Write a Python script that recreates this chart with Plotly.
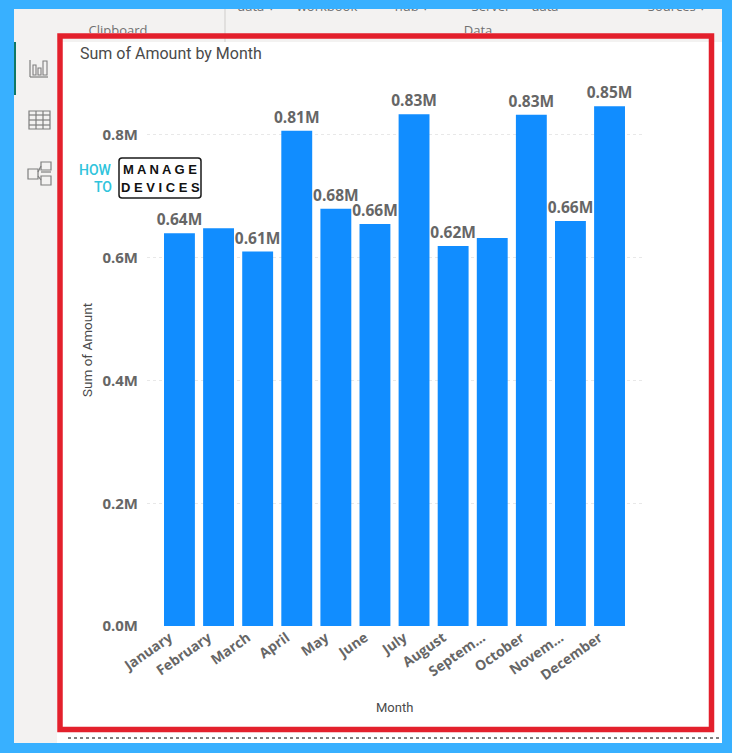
import plotly.graph_objects as go

W = 732
H = 753

months = ["January", "February", "March", "April", "May", "June", "July",
          "August", "Septem...", "October", "Novem...", "December"]
amounts = [0.640, 0.648, 0.610, 0.807, 0.680, 0.655, 0.834, 0.619, 0.632, 0.833, 0.660, 0.847]
bar_labels = ["0.64M", "", "0.61M", "0.81M", "0.68M", "0.66M", "0.83M", "0.62M", "", "0.83M", "0.66M", "0.85M"]
y_ticks = [0.0, 0.2, 0.4, 0.6, 0.8]
y_tick_labels = ["0.0M", "0.2M", "0.4M", "0.6M", "0.8M"]

ribbon_text = ["data ▾", "workbook", "hub ▾", "Server", "data", "Sources ▾", "Clipboard", "Data"]
ribbon_x = [256, 327, 412, 491, 545, 677, 118, 478]
ribbon_y = [8, 8, 8, 8, 8, 8, 32, 32]

BLUE = "#38b0ff"
GREY = "#f3f2f1"
RED = "#e3202c"
ICON = "#7f7f7f"


def px(x):
    return x / W


def py(y):
    return 1 - y / H


def rect(x0, y0, x1, y1, fill=None, line=None, width=0, layer="below"):
    return dict(type="rect", xref="paper", yref="paper", x0=px(x0), x1=px(x1), y0=py(y0), y1=py(y1),
                fillcolor=fill, line=dict(color=line, width=width), layer=layer)


def seg(x0, y0, x1, y1, color=ICON, width=1.2, dash="solid", layer="below"):
    return dict(type="line", xref="paper", yref="paper", x0=px(x0), x1=px(x1), y0=py(y0), y1=py(y1),
                line=dict(color=color, width=width, dash=dash), layer=layer)


def label(text, x, y, font, xanchor="center", angle=0):
    return dict(text=text, x=px(x), y=py(y), xref="paper", yref="paper", xanchor=xanchor, yanchor="middle",
                showarrow=False, textangle=angle, font=font)


shapes = [
    rect(0, 0, W, H, BLUE),
    rect(14, 9, 722, 743, "white"),
    rect(14, 9, 722, 42, GREY),
    rect(14, 42, 57, 743, GREY),
    seg(225, 9, 225, 42, "#cfcdcb", 1),
    rect(14, 42, 16, 95, "#117865"),
    seg(68, 738, 720, 738, "#555555", 1.5, "dot"),
    rect(60, 36, 711.5, 729.5, None, RED, 5.5, "above"),
]

# report view icon
shapes += [seg(30, 60, 30, 77), seg(30, 77, 48, 77), rect(33, 65, 36, 75, None, ICON, 1.1),
           rect(38, 68, 41, 75, None, ICON, 1.1), rect(43, 61, 47, 75, None, ICON, 1.1)]
# data view icon
shapes.append(rect(29, 111, 50, 129, None, ICON, 1.2))
for gy in [115, 120, 125]:
    shapes.append(seg(29, gy, 50, gy))
for gx in [36, 43]:
    shapes.append(seg(gx, 111, gx, 129))
# model view icon
shapes += [rect(28, 169, 38, 179, None, ICON, 1.2), rect(41, 162, 51, 170, None, ICON, 1.2),
           rect(41, 176, 51, 185, None, ICON, 1.2), seg(38, 172, 41, 166), seg(38, 176, 41, 180),
           seg(41, 172, 51, 172)]
# logo box
shapes.append(dict(type="path", xref="paper", yref="paper",
                   path=f"M {px(122)} {py(158)} L {px(198)} {py(158)} Q {px(201)} {py(158)} {px(201)} {py(161)} "
                        f"L {px(201)} {py(195)} Q {px(201)} {py(198)} {px(198)} {py(198)} L {px(122)} {py(198)} "
                        f"Q {px(119)} {py(198)} {px(119)} {py(195)} L {px(119)} {py(161)} "
                        f"Q {px(119)} {py(158)} {px(122)} {py(158)} Z",
                   line=dict(color="#1a1a1a", width=1.5), layer="below"))

how_font = dict(family="Roboto", size=14, color="#2fc4dc", weight=500)
logo_font = dict(family="Liberation Sans", size=13, color="#111111")
annotations = [
    label("Sum of Amount by Month", 78, 53, dict(family="Roboto", size=16, color="#4a4a4a"), "left"),
    label("Month", 394, 707, dict(family="Roboto", size=13, color="#4a4a4a")),
    label("Sum of Amount", 87, 350, dict(family="Roboto", size=13.5, color="#4a4a4a"), angle=-90),
    label("HOW", 114, 170, how_font, "right"),
    label("TO", 114, 187, how_font, "right"),
    label("<b>M A N A G E</b>", 160, 169, logo_font),
    label("<b>D E V I C E S</b>", 160, 187, logo_font),
]

fig = go.Figure()
fig.add_trace(go.Bar(
    x=months,
    y=amounts,
    text=bar_labels,
    textposition="outside",
    cliponaxis=False,
    textangle=0,
    constraintext="none",
    textfont=dict(family="Open Sans", size=15.5, color="#666666", weight=700),
    marker=dict(color="#118dff", line=dict(width=0)),
    hoverinfo="skip",
))
# ribbon captions, cut off by the window top and the red frame like the screenshot
fig.add_trace(go.Scatter(
    x=ribbon_x,
    y=ribbon_y,
    text=ribbon_text,
    mode="text",
    textposition="middle center",
    textfont=dict(family="Open Sans", size=13, color="#707070"),
    cliponaxis=True,
    xaxis="x2",
    yaxis="y2",
    hoverinfo="skip",
))

fig.update_layout(
    width=W,
    height=H,
    margin=dict(l=0, r=0, t=0, b=0),
    paper_bgcolor="white",
    plot_bgcolor="rgba(0,0,0,0)",
    showlegend=False,
    bargap=0.21,
    shapes=shapes,
    annotations=annotations,
    xaxis=dict(
        domain=[px(147), px(642)],
        range=[-0.83, 11.83],
        type="category",
        tickangle=-35,
        ticks="",
        ticklabelshift=-10,
        showgrid=False,
        zeroline=False,
        automargin=False,
        tickfont=dict(family="Open Sans", size=14, color="#666666", weight=700),
    ),
    yaxis=dict(
        domain=[py(626), py(80)],
        range=[0, 0.8896],
        tickvals=y_ticks,
        ticktext=y_tick_labels,
        ticks="",
        ticklabelstandoff=8,
        showgrid=True,
        gridcolor="#e8e8e8",
        griddash="dot",
        gridwidth=1,
        zeroline=False,
        automargin=False,
        tickfont=dict(family="Open Sans", size=15, color="#666666", weight=700),
    ),
    xaxis2=dict(domain=[0, 1], range=[0, W], visible=False, anchor="y2"),
    yaxis2=dict(domain=[py(33), py(9)], range=[33, 9], visible=False, anchor="x2"),
)

fig.write_html("out.html", config=dict(displayModeBar=False),
               post_script="document.body.style.margin='0';document.body.style.overflow='hidden';")
